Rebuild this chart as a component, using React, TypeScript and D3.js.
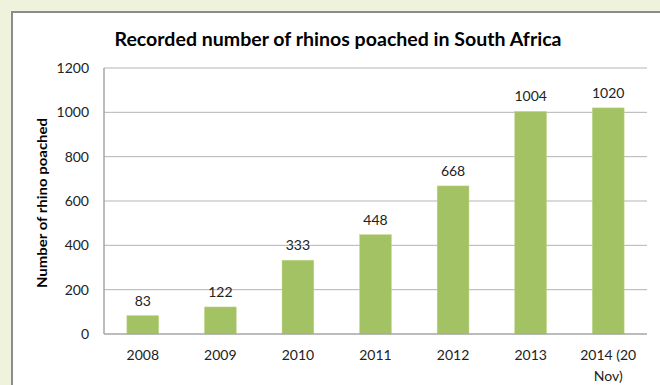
import React from "react";
import * as d3 from "d3";

const categories = ["2008", "2009", "2010", "2011", "2012", "2013", "2014 (20 Nov)"];
const categoryLines = [["2008"], ["2009"], ["2010"], ["2011"], ["2012"], ["2013"], ["2014 (20", "Nov)"]];
const values = [83, 122, 333, 448, 668, 1004, 1020];
const yTicks = [0, 200, 400, 600, 800, 1000, 1200];

export default function App() {
  const W = 660, H = 385;
  const left = 104, right = 647, top = 68, bottom = 334;
  const x = d3.scaleBand<string>().domain(categories).range([left, right]).paddingInner(0.59).paddingOuter(0.295);
  const y = d3.scaleLinear().domain([0, 1200]).range([bottom, top]);
  const font = "Lato, 'Open Sans', 'Liberation Sans', sans-serif";
  return (
    <svg width={W} height={H} style={{ position: "absolute", left: 0, top: 0 }} fontFamily={font}>
      <rect x={0} y={0} width={W} height={H} fill="#eff3dd" />
      <rect x={12} y={12} width={W} height={H} fill="#ffffff" stroke="#8c8c8c" strokeWidth={2} />
      <text x={338} y={46} textAnchor="middle" fontSize={18} fontWeight="bold" fill="#000" textLength={447} lengthAdjust="spacingAndGlyphs">
        Recorded number of rhinos poached in South Africa
      </text>
      {yTicks.map((t) => (
        <g key={t}>
          {t > 0 && <line x1={left} x2={right} y1={y(t)} y2={y(t)} stroke="#b4b4b4" strokeWidth={1} />}
          <text x={89} y={y(t) + 5} textAnchor="end" fontSize={14} fill="#222">{t}</text>
        </g>
      ))}
      <line x1={left} x2={left} y1={top} y2={bottom} stroke="#a6a6a6" strokeWidth={1.5} />
      {categories.map((c, i) => (
        <g key={c}>
          <rect x={x(c)} y={y(values[i])} width={x.bandwidth()} height={bottom - y(values[i])} fill="#a3c263" stroke="#c0d88c" strokeWidth={0.5} />
          <text x={(x(c) as number) + x.bandwidth() / 2} y={y(values[i]) - 10} textAnchor="middle" fontSize={14} fill="#222">{values[i]}</text>
          {categoryLines[i].map((l, j) => (
            <text key={j} x={(x(c) as number) + x.bandwidth() / 2} y={360 + j * 21} textAnchor="middle" fontSize={14} fill="#222">{l}</text>
          ))}
        </g>
      ))}
      <line x1={left} x2={right} y1={bottom} y2={bottom} stroke="#a6a6a6" strokeWidth={1.5} />
      <text transform={`translate(47,203) rotate(-90)`} textAnchor="middle" fontSize={13.5} fontWeight="bold" fill="#000" textLength={170} lengthAdjust="spacingAndGlyphs">
        Number of rhino poached
      </text>
    </svg>
  );
}
